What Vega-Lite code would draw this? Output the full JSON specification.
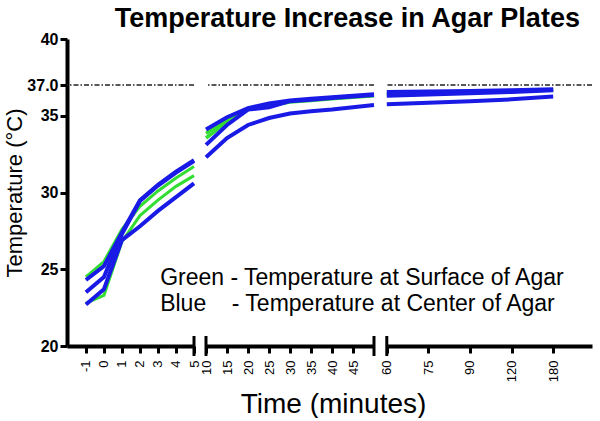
{
  "$schema": "https://vega.github.io/schema/vega-lite/v6.json",
  "background": "white",
  "padding": {"left": 3, "top": 5, "right": 0, "bottom": 0},
  "bounds": "flush",
  "spacing": 12,
  "title": {"text": "Temperature Increase in Agar Plates", "font": "Liberation Sans", "fontSize": 27, "fontWeight": "bold", "color": "black", "anchor": "middle", "offset": -2, "dx": 49},
  "config": {
    "view": {"stroke": null},
    "font": "Liberation Sans",
    "axis": {"grid": false, "domainColor": "black", "domainWidth": 4, "tickColor": "black", "tickWidth": 3, "tickSize": 7, "labelColor": "black", "titleColor": "black", "labelFont": "Liberation Sans", "titleFont": "Liberation Sans", "labelOverlap": false, "labelBound": false, "labelFlush": false}
  },
  "datasets": {
    "lines": [
      {"segment":1,"plate":"B1","layer":"Center","time":-1,"temp":24.3},
      {"segment":1,"plate":"B1","layer":"Center","time":0,"temp":25.2},
      {"segment":1,"plate":"B1","layer":"Center","time":1,"temp":27.4},
      {"segment":1,"plate":"B1","layer":"Center","time":2,"temp":29.5},
      {"segment":1,"plate":"B1","layer":"Center","time":3,"temp":30.5},
      {"segment":1,"plate":"B1","layer":"Center","time":4,"temp":31.35},
      {"segment":1,"plate":"B1","layer":"Center","time":5,"temp":32.1},
      {"segment":1,"plate":"B2","layer":"Center","time":-1,"temp":23.5},
      {"segment":1,"plate":"B2","layer":"Center","time":0,"temp":24.5},
      {"segment":1,"plate":"B2","layer":"Center","time":1,"temp":27.3},
      {"segment":1,"plate":"B2","layer":"Center","time":2,"temp":29.45},
      {"segment":1,"plate":"B2","layer":"Center","time":3,"temp":30.45},
      {"segment":1,"plate":"B2","layer":"Center","time":4,"temp":31.3},
      {"segment":1,"plate":"B2","layer":"Center","time":5,"temp":32.05},
      {"segment":1,"plate":"B3","layer":"Center","time":-1,"temp":22.7},
      {"segment":1,"plate":"B3","layer":"Center","time":0,"temp":23.7},
      {"segment":1,"plate":"B3","layer":"Center","time":1,"temp":26.9},
      {"segment":1,"plate":"B3","layer":"Center","time":2,"temp":27.8},
      {"segment":1,"plate":"B3","layer":"Center","time":3,"temp":28.8},
      {"segment":1,"plate":"B3","layer":"Center","time":4,"temp":29.7},
      {"segment":1,"plate":"B3","layer":"Center","time":5,"temp":30.6},
      {"segment":1,"plate":"G1","layer":"Surface","time":-1,"temp":24.5},
      {"segment":1,"plate":"G1","layer":"Surface","time":0,"temp":25.5},
      {"segment":1,"plate":"G1","layer":"Surface","time":1,"temp":27.6},
      {"segment":1,"plate":"G1","layer":"Surface","time":2,"temp":29.1},
      {"segment":1,"plate":"G1","layer":"Surface","time":3,"temp":30.1},
      {"segment":1,"plate":"G1","layer":"Surface","time":4,"temp":30.95},
      {"segment":1,"plate":"G1","layer":"Surface","time":5,"temp":31.7},
      {"segment":1,"plate":"G2","layer":"Surface","time":-1,"temp":22.8},
      {"segment":1,"plate":"G2","layer":"Surface","time":0,"temp":23.3},
      {"segment":1,"plate":"G2","layer":"Surface","time":1,"temp":26.8},
      {"segment":1,"plate":"G2","layer":"Surface","time":2,"temp":28.5},
      {"segment":1,"plate":"G2","layer":"Surface","time":3,"temp":29.5},
      {"segment":1,"plate":"G2","layer":"Surface","time":4,"temp":30.4},
      {"segment":1,"plate":"G2","layer":"Surface","time":5,"temp":31.1},
      {"segment":2,"plate":"B1","layer":"Center","time":10,"temp":34.1},
      {"segment":2,"plate":"B1","layer":"Center","time":15,"temp":34.9},
      {"segment":2,"plate":"B1","layer":"Center","time":20,"temp":35.5},
      {"segment":2,"plate":"B1","layer":"Center","time":25,"temp":35.8},
      {"segment":2,"plate":"B1","layer":"Center","time":30,"temp":36.0},
      {"segment":2,"plate":"B1","layer":"Center","time":35,"temp":36.1},
      {"segment":2,"plate":"B1","layer":"Center","time":40,"temp":36.2},
      {"segment":2,"plate":"B1","layer":"Center","time":45,"temp":36.3},
      {"segment":2,"plate":"B1","layer":"Center","time":50,"temp":36.4},
      {"segment":2,"plate":"B2","layer":"Center","time":10,"temp":33.1},
      {"segment":2,"plate":"B2","layer":"Center","time":15,"temp":34.4},
      {"segment":2,"plate":"B2","layer":"Center","time":20,"temp":35.4},
      {"segment":2,"plate":"B2","layer":"Center","time":25,"temp":35.55},
      {"segment":2,"plate":"B2","layer":"Center","time":30,"temp":35.95},
      {"segment":2,"plate":"B2","layer":"Center","time":35,"temp":36.05},
      {"segment":2,"plate":"B2","layer":"Center","time":40,"temp":36.15},
      {"segment":2,"plate":"B2","layer":"Center","time":45,"temp":36.25},
      {"segment":2,"plate":"B2","layer":"Center","time":50,"temp":36.35},
      {"segment":2,"plate":"B3","layer":"Center","time":10,"temp":32.3},
      {"segment":2,"plate":"B3","layer":"Center","time":15,"temp":33.55},
      {"segment":2,"plate":"B3","layer":"Center","time":20,"temp":34.4},
      {"segment":2,"plate":"B3","layer":"Center","time":25,"temp":34.85},
      {"segment":2,"plate":"B3","layer":"Center","time":30,"temp":35.15},
      {"segment":2,"plate":"B3","layer":"Center","time":35,"temp":35.3},
      {"segment":2,"plate":"B3","layer":"Center","time":40,"temp":35.4},
      {"segment":2,"plate":"B3","layer":"Center","time":45,"temp":35.55},
      {"segment":2,"plate":"B3","layer":"Center","time":50,"temp":35.7},
      {"segment":2,"plate":"G1","layer":"Surface","time":10,"temp":33.85},
      {"segment":2,"plate":"G1","layer":"Surface","time":15,"temp":34.75},
      {"segment":2,"plate":"G1","layer":"Surface","time":20,"temp":35.45},
      {"segment":2,"plate":"G1","layer":"Surface","time":25,"temp":35.75},
      {"segment":2,"plate":"G1","layer":"Surface","time":30,"temp":35.95},
      {"segment":2,"plate":"G1","layer":"Surface","time":35,"temp":36.05},
      {"segment":2,"plate":"G1","layer":"Surface","time":40,"temp":36.15},
      {"segment":2,"plate":"G1","layer":"Surface","time":45,"temp":36.25},
      {"segment":2,"plate":"G1","layer":"Surface","time":50,"temp":36.35},
      {"segment":2,"plate":"G2","layer":"Surface","time":10,"temp":33.55},
      {"segment":2,"plate":"G2","layer":"Surface","time":15,"temp":34.6},
      {"segment":2,"plate":"G2","layer":"Surface","time":20,"temp":35.4},
      {"segment":2,"plate":"G2","layer":"Surface","time":25,"temp":35.65},
      {"segment":2,"plate":"G2","layer":"Surface","time":30,"temp":35.9},
      {"segment":2,"plate":"G2","layer":"Surface","time":35,"temp":36.0},
      {"segment":2,"plate":"G2","layer":"Surface","time":40,"temp":36.1},
      {"segment":2,"plate":"G2","layer":"Surface","time":45,"temp":36.2},
      {"segment":2,"plate":"G2","layer":"Surface","time":50,"temp":36.3},
      {"segment":3,"plate":"B1","layer":"Center","time":60,"temp":36.55},
      {"segment":3,"plate":"B1","layer":"Center","time":75,"temp":36.58},
      {"segment":3,"plate":"B1","layer":"Center","time":90,"temp":36.62},
      {"segment":3,"plate":"B1","layer":"Center","time":120,"temp":36.66},
      {"segment":3,"plate":"B1","layer":"Center","time":180,"temp":36.72},
      {"segment":3,"plate":"B2","layer":"Center","time":60,"temp":36.3},
      {"segment":3,"plate":"B2","layer":"Center","time":75,"temp":36.38},
      {"segment":3,"plate":"B2","layer":"Center","time":90,"temp":36.46},
      {"segment":3,"plate":"B2","layer":"Center","time":120,"temp":36.55},
      {"segment":3,"plate":"B2","layer":"Center","time":180,"temp":36.66},
      {"segment":3,"plate":"B3","layer":"Center","time":60,"temp":35.75},
      {"segment":3,"plate":"B3","layer":"Center","time":75,"temp":35.85},
      {"segment":3,"plate":"B3","layer":"Center","time":90,"temp":35.95},
      {"segment":3,"plate":"B3","layer":"Center","time":120,"temp":36.07},
      {"segment":3,"plate":"B3","layer":"Center","time":180,"temp":36.25},
      {"segment":3,"plate":"G1","layer":"Surface","time":60,"temp":36.45},
      {"segment":3,"plate":"G1","layer":"Surface","time":75,"temp":36.5},
      {"segment":3,"plate":"G1","layer":"Surface","time":90,"temp":36.55},
      {"segment":3,"plate":"G1","layer":"Surface","time":120,"temp":36.6},
      {"segment":3,"plate":"G1","layer":"Surface","time":180,"temp":36.68},
      {"segment":3,"plate":"G2","layer":"Surface","time":60,"temp":36.35},
      {"segment":3,"plate":"G2","layer":"Surface","time":75,"temp":36.42},
      {"segment":3,"plate":"G2","layer":"Surface","time":90,"temp":36.5},
      {"segment":3,"plate":"G2","layer":"Surface","time":120,"temp":36.57},
      {"segment":3,"plate":"G2","layer":"Surface","time":180,"temp":36.66}
    ]
  },
  "hconcat": [
    {
      "width": 127,
      "height": 307,
      "layer": [
        {"data": {"name": "lines"}, "transform": [{"filter": "datum.segment == 1 && datum.layer == 'Surface'"}],
         "mark": {"type": "line", "color": "#33dd33", "strokeWidth": 3},
         "encoding": {
           "x": {"field": "time", "type": "quantitative", "scale": {"domain": [-2.05, 5], "nice": false, "zero": false},
                 "axis": {"values": [-1, 0, 1, 2, 3, 4, 5], "labelExpr": "'' + datum.value", "labelAngle": 270, "labelFontSize": 13, "labelPadding": 7, "labelOverlap": false, "labelSeparation": 0, "title": null}},
           "y": {"field": "temp", "type": "quantitative", "scale": {"domain": [20, 40], "nice": false, "zero": false},
                 "axis": {"values": [20, 25, 30, 35, 37, 40], "labelExpr": "datum.value == 37 ? '37.0' : datum.label", "labelFontSize": 16, "labelFontWeight": "bold", "labelPadding": 2, "labelOverlap": false, "title": "Temperature (°C)", "titleFontSize": 22, "titleFontWeight": "normal", "titlePadding": 0}},
           "detail": {"field": "plate"}}},
        {"data": {"name": "lines"}, "transform": [{"filter": "datum.segment == 1 && datum.layer == 'Center'"}],
         "mark": {"type": "line", "color": "#1a1ae6", "strokeWidth": 4},
         "encoding": {
           "x": {"field": "time", "type": "quantitative",
                 "axis": {"values": [-1, 0, 1, 2, 3, 4, 5], "labelExpr": "'' + datum.value", "labelAngle": 270, "labelFontSize": 13, "labelPadding": 7, "labelOverlap": false, "labelSeparation": 0, "title": null}},
           "y": {"field": "temp", "type": "quantitative",
                 "axis": {"values": [20, 25, 30, 35, 37, 40], "labelExpr": "datum.value == 37 ? '37.0' : datum.label", "labelFontSize": 16, "labelFontWeight": "bold", "labelPadding": 2, "labelOverlap": false, "title": "Temperature (°C)", "titleFontSize": 22, "titleFontWeight": "normal", "titlePadding": 0}},
           "detail": {"field": "plate"}}},
        {"data": {"values": [{"level": 37}]}, "mark": {"type": "rule", "color": "#222222", "strokeWidth": 1.5, "strokeDash": [5, 2, 1.5, 2]},
         "encoding": {"y": {"field": "level", "type": "quantitative",
                 "axis": {"values": [20, 25, 30, 35, 37, 40], "labelExpr": "datum.value == 37 ? '37.0' : datum.label", "labelFontSize": 16, "labelFontWeight": "bold", "labelPadding": 2, "labelOverlap": false, "title": "Temperature (°C)", "titleFontSize": 22, "titleFontWeight": "normal", "titlePadding": 0}}}},
        {"data": {"values": [{"edge": 5}]}, "mark": {"type": "rule", "color": "black", "strokeWidth": 3},
         "encoding": {"x": {"field": "edge", "type": "quantitative",
                 "axis": {"values": [-1, 0, 1, 2, 3, 4, 5], "labelExpr": "'' + datum.value", "labelAngle": 270, "labelFontSize": 13, "labelPadding": 7, "labelOverlap": false, "labelSeparation": 0, "title": null}},
                      "y": {"datum": 19.35}, "y2": {"datum": 20.65}}},
        {"data": {"values": [{"label": "Green - Temperature at Surface of Agar"}]}, "mark": {"type": "text", "align": "left", "baseline": "alphabetic", "fontSize": 23, "font": "Liberation Sans", "color": "black"},
         "encoding": {"x": {"datum": 3.12, "type": "quantitative",
                 "axis": {"values": [-1, 0, 1, 2, 3, 4, 5], "labelExpr": "'' + datum.value", "labelAngle": 270, "labelFontSize": 13, "labelPadding": 7, "labelOverlap": false, "labelSeparation": 0, "title": null}},
                      "y": {"datum": 24.0, "type": "quantitative",
                 "axis": {"values": [20, 25, 30, 35, 37, 40], "labelExpr": "datum.value == 37 ? '37.0' : datum.label", "labelFontSize": 16, "labelFontWeight": "bold", "labelPadding": 2, "labelOverlap": false, "title": "Temperature (°C)", "titleFontSize": 22, "titleFontWeight": "normal", "titlePadding": 0}},
                      "text": {"field": "label"}}},
        {"data": {"values": [{"label": "Blue\u00a0\u00a0\u00a0\u00a0- Temperature at Center of Agar"}]}, "mark": {"type": "text", "align": "left", "baseline": "alphabetic", "fontSize": 23, "font": "Liberation Sans", "color": "black"},
         "encoding": {"x": {"datum": 3.12, "type": "quantitative",
                 "axis": {"values": [-1, 0, 1, 2, 3, 4, 5], "labelExpr": "'' + datum.value", "labelAngle": 270, "labelFontSize": 13, "labelPadding": 7, "labelOverlap": false, "labelSeparation": 0, "title": null}},
                      "y": {"datum": 22.25, "type": "quantitative",
                 "axis": {"values": [20, 25, 30, 35, 37, 40], "labelExpr": "datum.value == 37 ? '37.0' : datum.label", "labelFontSize": 16, "labelFontWeight": "bold", "labelPadding": 2, "labelOverlap": false, "title": "Temperature (°C)", "titleFontSize": 22, "titleFontWeight": "normal", "titlePadding": 0}},
                      "text": {"field": "label"}}}
      ]
    },
    {
      "width": 168,
      "height": 307,
      "layer": [
        {"data": {"name": "lines"}, "transform": [{"filter": "datum.segment == 2 && datum.layer == 'Surface'"}],
         "mark": {"type": "line", "color": "#33dd33", "strokeWidth": 3.5},
         "encoding": {
           "x": {"field": "time", "type": "quantitative", "scale": {"domain": [10, 50], "nice": false, "zero": false},
                 "axis": {"values": [10, 15, 20, 25, 30, 35, 40, 45], "labelAngle": 270, "labelFontSize": 13, "labelPadding": 7, "labelOverlap": false, "labelSeparation": 0,
                          "title": "Time (minutes)", "titleFontSize": 28, "titleFontWeight": "normal", "titleX": 127, "titleY": 66, "titleBaseline": "alphabetic", "titleAlign": "center"}},
           "y": {"field": "temp", "type": "quantitative", "scale": {"domain": [20, 40], "nice": false, "zero": false}, "axis": null},
           "detail": {"field": "plate"}}},
        {"data": {"name": "lines"}, "transform": [{"filter": "datum.segment == 2 && datum.layer == 'Center'"}],
         "mark": {"type": "line", "color": "#1a1ae6", "strokeWidth": 4},
         "encoding": {
           "x": {"field": "time", "type": "quantitative",
                 "axis": {"values": [10, 15, 20, 25, 30, 35, 40, 45], "labelAngle": 270, "labelFontSize": 13, "labelPadding": 7, "labelOverlap": false, "labelSeparation": 0,
                          "title": "Time (minutes)", "titleFontSize": 28, "titleFontWeight": "normal", "titleX": 127, "titleY": 66, "titleBaseline": "alphabetic", "titleAlign": "center"}},
           "y": {"field": "temp", "type": "quantitative", "axis": null},
           "detail": {"field": "plate"}}},
        {"data": {"values": [{"level": 37}]}, "mark": {"type": "rule", "color": "#222222", "strokeWidth": 1.5, "strokeDash": [5, 2, 1.5, 2]},
         "encoding": {"y": {"field": "level", "type": "quantitative", "axis": null}}},
        {"data": {"values": [{"edge": 10}, {"edge": 50}]}, "mark": {"type": "rule", "color": "black", "strokeWidth": 3},
         "encoding": {"x": {"field": "edge", "type": "quantitative",
                 "axis": {"values": [10, 15, 20, 25, 30, 35, 40, 45], "labelAngle": 270, "labelFontSize": 13, "labelPadding": 7, "labelOverlap": false, "labelSeparation": 0,
                          "title": "Time (minutes)", "titleFontSize": 28, "titleFontWeight": "normal", "titleX": 127, "titleY": 66, "titleBaseline": "alphabetic", "titleAlign": "center"}},
                      "y": {"datum": 19.35}, "y2": {"datum": 20.65}}}
      ]
    },
    {
      "width": 206,
      "height": 307,
      "layer": [
        {"data": {"name": "lines"}, "transform": [{"filter": "datum.segment == 3 && datum.layer == 'Surface'"}],
         "mark": {"type": "line", "color": "#33dd33", "strokeWidth": 3},
         "encoding": {
           "x": {"field": "time", "type": "ordinal", "scale": {"type": "point", "domain": [60, 75, 90, 120, 180], "padding": 0.476, "align": 0.02},
                 "axis": {"labelAngle": 270, "labelFontSize": 13, "labelPadding": 7, "labelOverlap": false, "title": null}},
           "y": {"field": "temp", "type": "quantitative", "scale": {"domain": [20, 40], "nice": false, "zero": false}, "axis": null},
           "detail": {"field": "plate"}}},
        {"data": {"name": "lines"}, "transform": [{"filter": "datum.segment == 3 && datum.layer == 'Center'"}],
         "mark": {"type": "line", "color": "#1a1ae6", "strokeWidth": 4},
         "encoding": {"x": {"field": "time", "type": "ordinal", "axis": {"labelAngle": 270, "labelFontSize": 13, "labelPadding": 7, "labelOverlap": false, "title": null}},
                      "y": {"field": "temp", "type": "quantitative", "axis": null}, "detail": {"field": "plate"}}},
        {"data": {"values": [{"level": 37}]}, "mark": {"type": "rule", "color": "#222222", "strokeWidth": 1.5, "strokeDash": [5, 2, 1.5, 2]},
         "encoding": {"y": {"field": "level", "type": "quantitative", "axis": null}}},
        {"data": {"values": [{"edge": 60}]}, "mark": {"type": "rule", "color": "black", "strokeWidth": 3},
         "encoding": {"x": {"field": "edge", "type": "ordinal", "axis": {"labelAngle": 270, "labelFontSize": 13, "labelPadding": 7, "labelOverlap": false, "title": null}},
                      "y": {"datum": 19.35}, "y2": {"datum": 20.65}}}
      ]
    }
  ]
}
